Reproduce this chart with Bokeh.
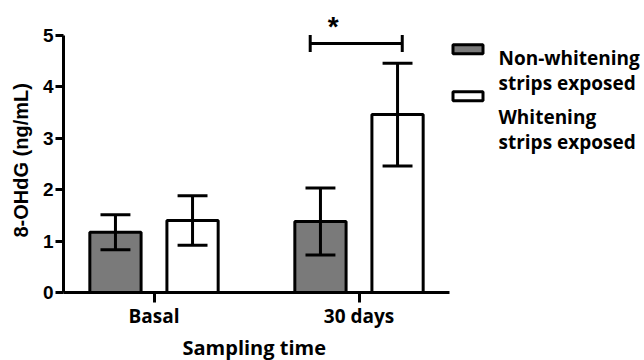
from bokeh.plotting import figure
from bokeh.models import Range1d, FixedTicker, Title
from bokeh.core.properties import value
from bokeh.embed import file_html
from bokeh.resources import INLINE

# ---- data ----
groups = ["Basal", "30 days"]
series_names = ["Non-whitening\nstrips exposed", "Whitening\nstrips exposed"]
non_whitening_mean = [1.17, 1.38]
non_whitening_err = [0.34, 0.65]
whitening_mean = [1.40, 3.46]
whitening_err = [0.48, 1.00]
y_ticks = [0, 1, 2, 3, 4, 5]
y_label = "8-OHdG (ng/mL)"
x_label = "Sampling time"
sig_mark = "*"

# ---- layout helpers (pixel -> data) ----
GX, GU, BY, YU = 153.5, 205.0, 293.0, 51.6
def dx(px):
    return 1 + (px - GX) / GU
def dy(py):
    return (BY - py) / YU

GRAY = "#7a7a7a"
SANS = "Open Sans"
ARIAL = "Liberation Sans"

p = figure(width=644, height=360,
           x_range=Range1d(dx(63), dx(644)), y_range=Range1d(0, dy(0)),
           min_border_left=63, min_border_right=0, min_border_top=0,
           min_border_bottom=67, output_backend="svg", toolbar_location=None)
p.outline_line_color = None
p.xgrid.visible = False
p.ygrid.visible = False
p.background_fill_color = "white"
p.border_fill_color = "white"

# axes
xs_centers = list(range(1, len(groups) + 1))
xa = p.xaxis[0]
xa.ticker = FixedTicker(ticks=xs_centers)
xa.major_label_overrides = {c: g for c, g in zip(xs_centers, groups)}
xa.bounds = (dx(63), dx(449))
xa.axis_line_width = 3
xa.major_tick_line_width = 3
xa.major_tick_out = 10
xa.major_tick_in = 0
xa.minor_tick_line_color = None
xa.major_label_text_font = SANS
xa.major_label_text_font_style = "bold"
xa.major_label_text_font_size = "19px"
xa.major_label_text_color = "black"
xa.major_label_standoff = 0

ya = p.yaxis[0]
ya.ticker = FixedTicker(ticks=y_ticks)
ya.bounds = (0, 5)
ya.axis_line_width = 3
ya.major_tick_line_width = 3
ya.major_tick_out = 8
ya.major_tick_in = 0
ya.minor_tick_line_color = None
ya.major_label_text_font = ARIAL
ya.major_label_text_font_style = "bold"
ya.major_label_text_font_size = "19px"
ya.major_label_text_color = "black"
ya.major_label_standoff = 2

# axis titles as side titles (offset along the frame)
p.add_layout(Title(text=x_label, align="left", offset=119, standoff=0,
                   vertical_align="bottom", text_font=SANS,
                   text_font_style="bold", text_font_size="20px",
                   text_color="black"), "below")
p.add_layout(Title(text=y_label, align="left", offset=55, standoff=12,
                   vertical_align="top", text_font=ARIAL,
                   text_font_style="bold", text_font_size="20px",
                   text_color="black"), "left")

# bars
OFF, W, CAP = 0.188, 0.25, 0.073
fills = [GRAY, "white"]
means = [non_whitening_mean, whitening_mean]
errs = [non_whitening_err, whitening_err]
for k, (m, e, f) in enumerate(zip(means, errs, fills)):
    off = -OFF if k == 0 else OFF
    xs = [c + off for c in xs_centers]
    p.vbar(x=xs, top=m, bottom=0, width=W, fill_color=f,
           line_color="black", line_width=3)
for k, (m, e) in enumerate(zip(means, errs)):
    off = -OFF if k == 0 else OFF
    xs = [c + off for c in xs_centers]
    lo = [a - b for a, b in zip(m, e)]
    hi = [a + b for a, b in zip(m, e)]
    p.segment(x0=xs, y0=lo, x1=xs, y1=hi, line_color="black", line_width=3)
    p.segment(x0=[x - CAP for x in xs], y0=hi, x1=[x + CAP for x in xs], y1=hi,
              line_color="black", line_width=3)
    p.segment(x0=[x - CAP for x in xs], y0=lo, x1=[x + CAP for x in xs], y1=lo,
              line_color="black", line_width=3)

# significance bracket on second group
g2 = xs_centers[1]
bl, br, by, bt = g2 - 0.238, g2 + 0.211, 4.84, 0.165
p.segment(x0=[bl, bl, br], y0=[by, by - bt, by - bt],
          x1=[br, bl, br], y1=[by, by + bt, by + bt],
          line_color="black", line_width=3)
p.text(x=[g2 - 0.126], y=[dy(26)], text=[sig_mark], text_align="center",
       text_baseline="alphabetic", text_font=value(ARIAL),
       text_font_style="bold", text_font_size="28px", text_color="black")

# legend (manual, two-line labels)
sw_y = [dy(49), dy(96)]
p.rect(x=[dx(467.5)] * 2, y=sw_y, width=30, height=9,
       width_units="screen", height_units="screen",
       fill_color=fills, line_color="black", line_width=3)
lines, ly = [], []
base = [58, 117]
for name, b in zip(series_names, base):
    for i, part in enumerate(name.split("\n")):
        lines.append(part)
        ly.append(dy(b + 25 * i))
p.text(x=[dx(498)] * len(lines), y=ly, text=lines, text_align="left",
       text_baseline="alphabetic", text_font=value(SANS),
       text_font_style="bold", text_font_size="19px", text_color="black")

open("out.html", "w").write(file_html(p, INLINE))
